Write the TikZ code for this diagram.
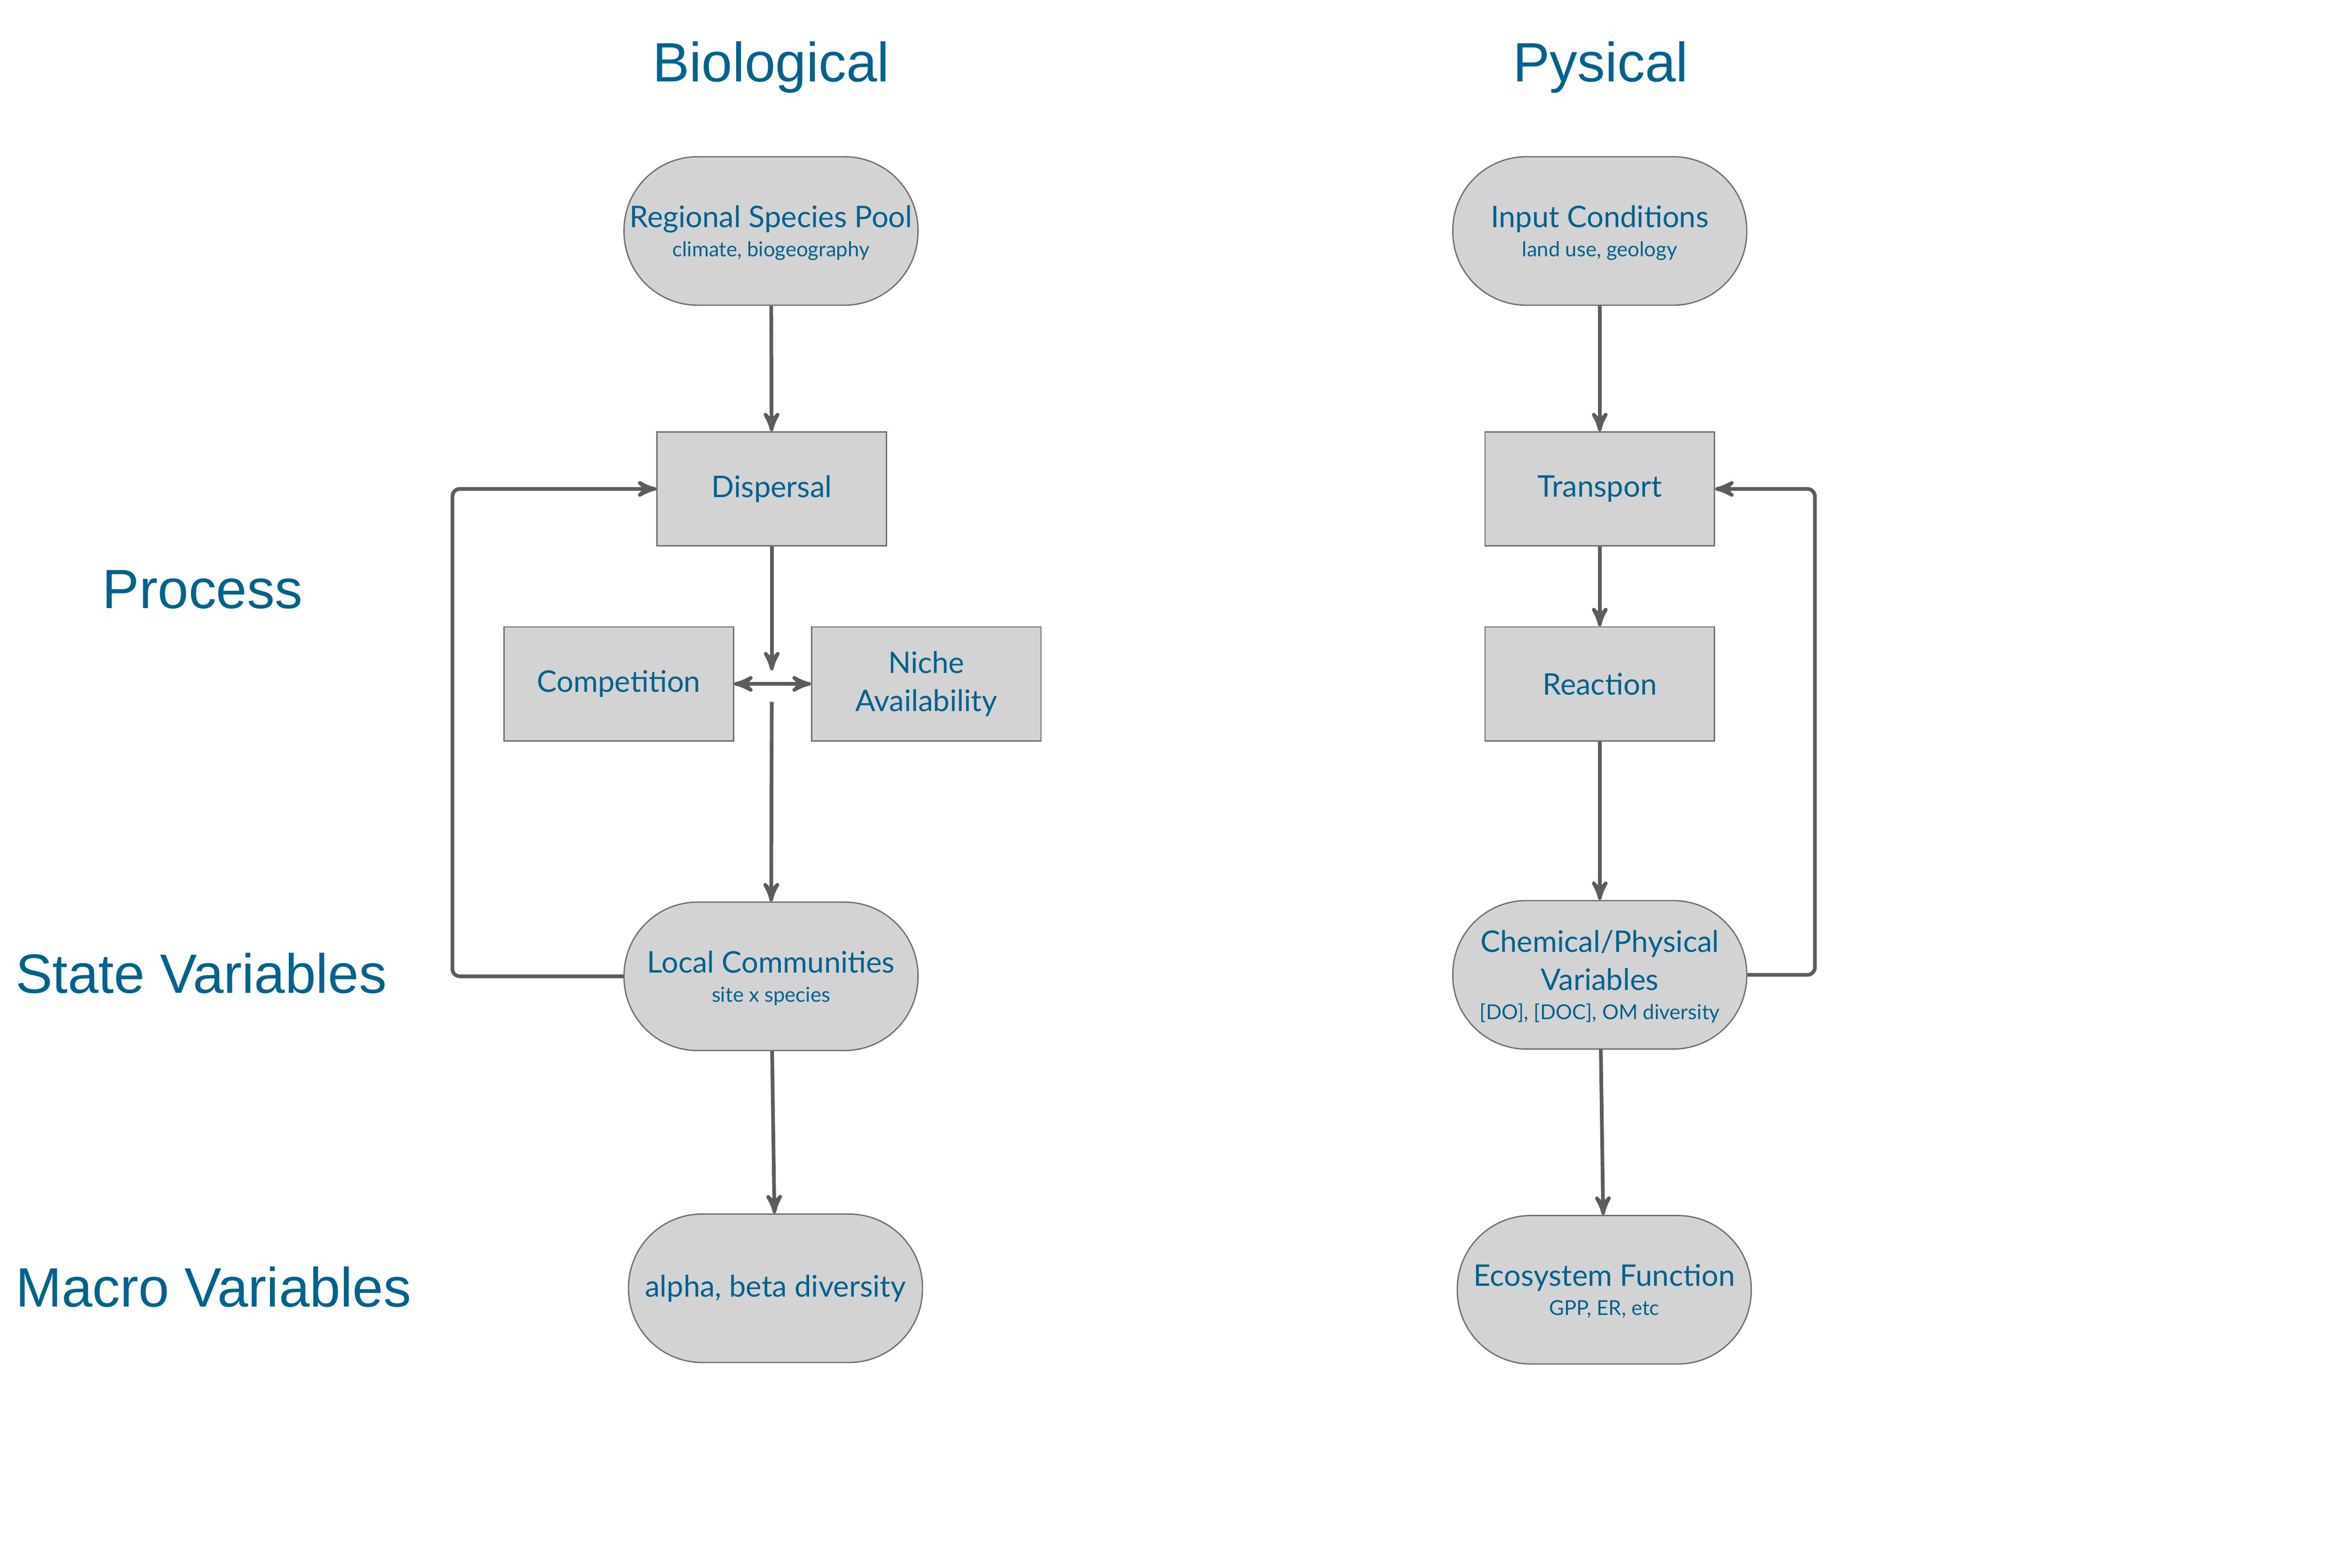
\documentclass[tikz,border=0pt]{standalone}
\usepackage{fontspec}
\setmainfont{Lato}
\newfontfamily\headfont{Liberation Sans}
\definecolor{textblue}{RGB}{0, 98, 143}
\definecolor{boxgray}{RGB}{211, 211, 211}
\definecolor{edgegray}{RGB}{112, 112, 112}
\definecolor{linegray}{RGB}{92, 92, 92}
\usetikzlibrary{arrows}
\usetikzlibrary{calc}
\usetikzlibrary{positioning}
\tikzset{
  heading/.style={text=textblue, inner sep=0, font=\headfont\fontsize{21}{25}\selectfont},
  pill/.style={
    draw=edgegray, fill=boxgray, line width=0.5pt,
    rounded corners=0.98cm, minimum width=3.92cm, minimum height=1.98cm,
    align=center, inner sep=0, text=textblue,
    font=\fontsize{11.3}{14.4}\selectfont
  },
  procbox/.style={
    draw=edgegray, fill=boxgray, line width=0.5pt,
    minimum width=3.06cm, minimum height=1.52cm,
    align=center, inner sep=0, text=textblue,
    font=\fontsize{11.3}{14.4}\selectfont
  },
  arrow/.style={->,>=stealth', line width=1.4pt, draw=linegray}
}
\newcommand{\subtext}[1]{\\[-3.4pt]\raisebox{0pt}[\height][0pt]{\fontsize{7.8}{9}\selectfont #1}}

\begin{document}
\begin{tikzpicture}[x=0.02cm, y=-0.02cm]
  \useasboundingbox (0,0) rectangle (1568,1045.33);

  % headings
  \node[heading] (bio) at (514,45) {Biological};
  \node[heading] (phys) at (1067,45) {Pysical};
  \node[heading, anchor=west] (process) at (68,393) {Process};
  \node[heading, anchor=west] (state) at (10,649) {State Variables};
  \node[heading, anchor=west] (macro) at (10,858) {Macro Variables};

  % biological column
  \node[pill] (pool) at (514,154) {Regional Species Pool\subtext{climate, biogeography}};
  \node[procbox] (disp) at (514.5,326) {Dispersal};
  \node[procbox] (comp) at (412.5,456) {Competition};
  \node[procbox] (niche) at (617.5,456) {Niche\\Availability};
  \node[pill] (local) at (514,651) {Local Communities\subtext{site x species}};
  \node[pill] (alpha) at (517,859) {alpha, beta diversity};
  \coordinate (jtop) at (514.5,447);
  \coordinate (jbot) at (514.5,468);

  % physical column
  \node[pill] (input) at (1066.5,154) {Input Conditions\subtext{land use, geology}};
  \node[procbox] (trans) at (1066.5,326) {Transport};
  \node[procbox] (react) at (1066.5,456) {Reaction};
  \node[pill] (chem) at (1066.5,650) {Chemical/Physical\\Variables\subtext{[DO], [DOC], OM diversity}};
  \node[pill] (eco) at (1069.5,860) {Ecosystem Function\subtext{GPP, ER, etc}};

  % connectors
  \draw[arrow] (pool) -- (disp);
  \draw[arrow] (disp) -- (jtop);
  \draw[arrow, <->] (comp) -- (niche);
  \draw[arrow] (jbot) -- (local);
  \draw[arrow] (local) -- (alpha);
  \draw[arrow, rounded corners=0.1cm] (local.west) -- ++(-114,0) |- (disp.west);

  \draw[arrow] (input) -- (trans);
  \draw[arrow] (trans) -- (react);
  \draw[arrow] (react) -- (chem);
  \draw[arrow] (chem) -- (eco);
  \draw[arrow, rounded corners=0.1cm] (chem.east) -- ++(45,0) |- (trans.east);
\end{tikzpicture}
\end{document}
